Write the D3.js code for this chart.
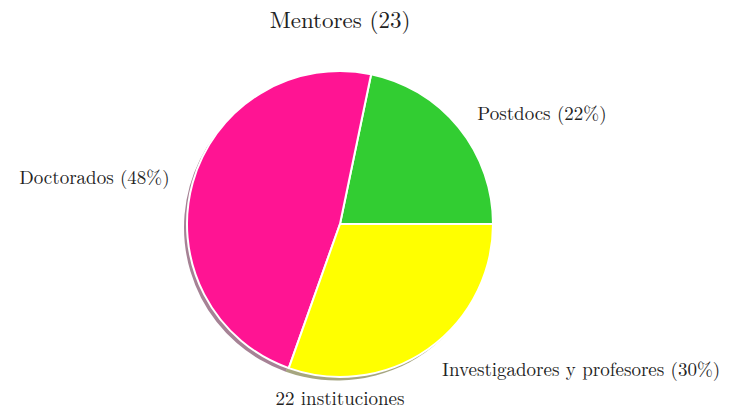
<!DOCTYPE html>
<html>
<head>
<meta charset="utf-8">
<script src="https://cdn.jsdelivr.net/npm/d3@7"></script>
<style>
  body { margin: 0; background: #fff; }
  text { font-family: "Latin Modern Roman", "CMU Serif", "DejaVu Serif", serif; fill: #222; }
</style>
</head>
<body>
<svg id="chart" width="729" height="410"></svg>
<script>
// data: 23 mentors in total
var labels = ["Postdocs", "Doctorados", "Investigadores y profesores"];
var counts = [5, 11, 7];
var colors = ["#32cd32", "#ff1493", "#ffff00"];
var title = "Mentores (23)";
var footer = "22 instituciones";

var width = 729, height = 410,
	cx = 340, cy = 224, r = 153, labelR = 177;

var svg = d3.select("#chart");
var g = svg.append("g").attr("transform", "translate(" + cx + "," + cy + ")");

// start at 3 o'clock, go counterclockwise (like matplotlib)
var pie = d3.pie().sort(null).value(d => d)
	.startAngle(Math.PI / 2).endAngle(Math.PI / 2 - 2 * Math.PI);
var arcs = pie(counts);
var arc = d3.arc().innerRadius(0).outerRadius(r);

// shadows: darker colour, shifted left and down
g.selectAll(".shadow").data(arcs).enter().append("path")
	.attr("class", "shadow")
	.attr("transform", "translate(-3,3.5)")
	.attr("d", arc)
	.attr("fill", (d, i) => {
		var c = d3.rgb(colors[i]);
		return d3.rgb(c.r * 0.3, c.g * 0.3, c.b * 0.3).toString();
	})
	.attr("fill-opacity", 0.5);

g.selectAll(".slice").data(arcs).enter().append("path")
	.attr("class", "slice")
	.attr("d", arc)
	.attr("fill", (d, i) => colors[i])
	.attr("stroke", "#fff")
	.attr("stroke-width", 2)
	.attr("stroke-linejoin", "round");

// labels
var total = d3.sum(counts);
g.selectAll(".lab").data(arcs).enter().append("text")
	.attr("class", "lab")
	.each(function(d, i) {
		var a = (d.startAngle + d.endAngle) / 2;
		var x = labelR * Math.sin(a), y = -labelR * Math.cos(a);
		d3.select(this)
			.attr("x", x).attr("y", y)
			.attr("text-anchor", x >= 0 ? "start" : "end")
			.attr("dominant-baseline", "central")
			.style("font-size", "19px")
			.text(labels[i] + " (" + Math.round(counts[i] / total * 100) + "%)");
	});

svg.append("text")
	.attr("x", cx).attr("y", 18)
	.attr("text-anchor", "middle").attr("dominant-baseline", "central")
	.style("font-size", "23px")
	.text(title);

svg.append("text")
	.attr("x", cx).attr("y", 397)
	.attr("text-anchor", "middle").attr("dominant-baseline", "central")
	.style("font-size", "19px")
	.text(footer);
</script>
</body>
</html>
